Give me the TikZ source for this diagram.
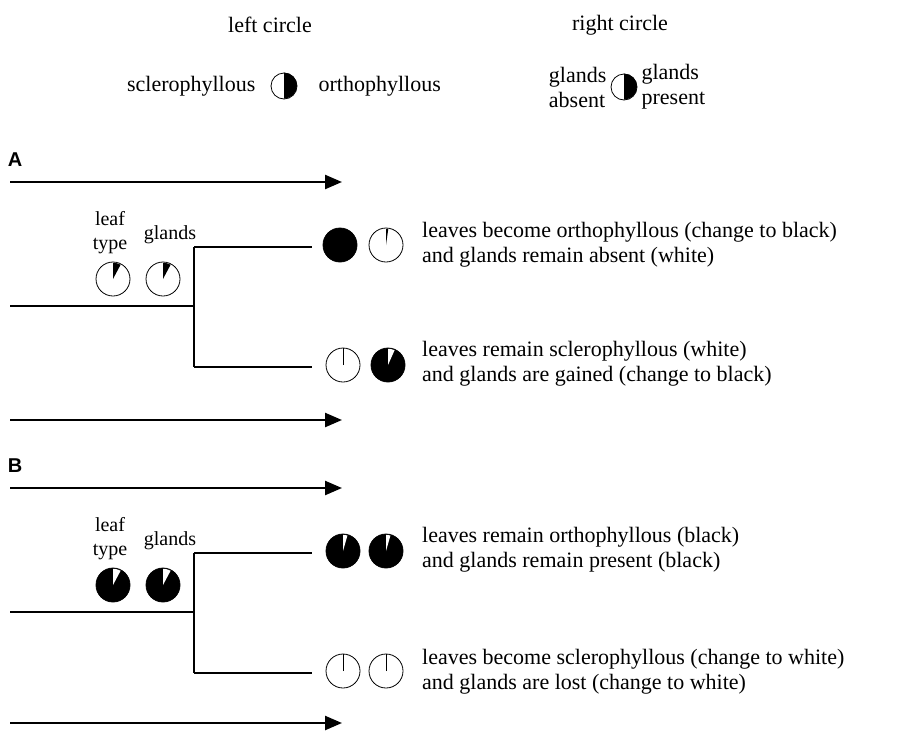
\documentclass[tikz,border=0pt]{standalone}
\usepackage{fontspec}
\setmainfont{Liberation Serif}
\newfontfamily\panelfont{Liberation Sans}
\usetikzlibrary{positioning}
\usetikzlibrary{arrows.meta}

\tikzset{
  disc/.style={circle,draw,line width=0.8pt,minimum size=34pt,inner sep=0pt},
  half/.style={circle,draw,line width=0.8pt,minimum size=26pt,inner sep=0pt},
  txt/.style={font=\fontsize{22}{25}\selectfont,align=left,inner sep=0pt},
  small/.style={font=\fontsize{20}{24}\selectfont,align=center,inner sep=0pt},
  panel/.style={font=\panelfont\bfseries\fontsize{20}{20}\selectfont,inner sep=0pt},
  timeline/.style={line width=2.4pt,-{Triangle[length=17pt,width=14pt]}},
  branch/.style={line width=1.6pt}
}
% pie wedge starting at 12 o'clock and going clockwise
\newcommand{\wedgeof}[3]{\fill[#2] (#1.center) -- ++(90:16.2pt) arc[start angle=90,end angle=#3,radius=16.2pt] -- cycle;}
\newcommand{\tickof}[1]{\draw[line width=1pt] (#1.center) -- (#1.north);}

\begin{document}
\begin{tikzpicture}[x=1pt,y=-1pt]
  \useasboundingbox (0,0) rectangle (909,731);

  % legend
  \node[txt] (lefthead) at (270,25) {left circle};
  \node[txt] (righthead) at (620,25) {right circle};

  \node[half] (legL) at (284,86) {};
  \fill (legL.center) -- (legL.north) arc[start angle=90,end angle=-90,radius=13pt] -- cycle;
  \node[txt,anchor=east] (scl) [left=15pt of legL] {sclerophyllous};
  \node[txt,anchor=west] (ort) [right=21pt of legL] {orthophyllous};

  \node[half] (legR) at (624,87) {};
  \fill (legR.center) -- (legR.north) arc[start angle=90,end angle=-90,radius=13pt] -- cycle;
  \node[txt,anchor=east] (gabs) [left=4pt of legR] {glands\\absent};
  \node[txt,anchor=west] (gpre) [right=4pt of legR] {glands\\present};

  % panel A
  \node[panel] (labA) at (15,160) {A};
  \coordinate (a1L) at (10,182);  \coordinate (a1R) at (342,182);
  \coordinate (a2L) at (10,420);  \coordinate (a2R) at (342,420);
  \draw[timeline] (a1L) -- (a1R);
  \draw[timeline] (a2L) -- (a2R);

  \node[disc] (leafA) at (113,279) {};
  \node[disc] (glandA) at (163,279) {};
  \wedgeof{leafA}{black}{62}
  \wedgeof{glandA}{black}{62}
  \node[small] (leafAlab) at (110,233) {leaf\\type};
  \node[small] (glandAlab) at (170,235) {glands};

  \coordinate (rootA) at (10,306);
  \coordinate (splitA) at (194,306);
  \coordinate (upA) at (194,247);
  \coordinate (downA) at (194,367);
  \draw[branch] (rootA) -- (splitA);
  \draw[branch] (upA) -- (downA);

  \node[disc,fill=black] (aUl) at (340,245) {};
  \node[disc] (aUr) at (386,245) {};
  \wedgeof{aUr}{black}{82}
  \node[disc] (aDl) at (343,365) {};
  \tickof{aDl}
  \node[disc,fill=black] (aDr) at (388,365) {};
  \wedgeof{aDr}{white}{66}

  \coordinate (upAend) at (312,247);
  \coordinate (downAend) at (312,367);
  \draw[branch] (upA) -- (upAend);
  \draw[branch] (downA) -- (downAend);

  \node[txt,anchor=west] (aUtxt) at (422,245) {leaves become orthophyllous (change to black)\\and glands remain absent (white)};
  \node[txt,anchor=west] (aDtxt) at (422,364) {leaves remain sclerophyllous (white)\\and glands are gained (change to black)};

  % panel B, same layout one step lower
  \begin{scope}[shift={(0,306)}]
  \node[panel] (labB) at (15,160) {B};
  \coordinate (b1L) at (10,182);  \coordinate (b1R) at (342,182);
  \coordinate (b2L) at (10,417);  \coordinate (b2R) at (342,417);
  \draw[timeline] (b1L) -- (b1R);
  \draw[timeline] (b2L) -- (b2R);

  \node[disc,fill=black] (leafB) at (113,279) {};
  \node[disc,fill=black] (glandB) at (163,279) {};
  \wedgeof{leafB}{white}{62}
  \wedgeof{glandB}{white}{62}
  \node[small] (leafBlab) at (110,233) {leaf\\type};
  \node[small] (glandBlab) at (170,235) {glands};

  \coordinate (rootB) at (10,306);
  \coordinate (splitB) at (194,306);
  \coordinate (upB) at (194,247);
  \coordinate (downB) at (194,367);
  \draw[branch] (rootB) -- (splitB);
  \draw[branch] (upB) -- (downB);

  \node[disc,fill=black] (bUl) at (343,245) {};
  \node[disc,fill=black] (bUr) at (386,245) {};
  \wedgeof{bUl}{white}{74}
  \wedgeof{bUr}{white}{74}
  \node[disc] (bDl) at (343,365) {};
  \node[disc] (bDr) at (386,365) {};
  \tickof{bDl}
  \tickof{bDr}

  \coordinate (upBend) at (312,247);
  \coordinate (downBend) at (312,367);
  \draw[branch] (upB) -- (upBend);
  \draw[branch] (downB) -- (downBend);

  \node[txt,anchor=west] (bUtxt) at (422,244) {leaves remain orthophyllous (black)\\and glands remain present (black)};
  \node[txt,anchor=west] (bDtxt) at (422,366) {leaves become sclerophyllous (change to white)\\and glands are lost (change to white)};
  \end{scope}
\end{tikzpicture}
\end{document}
